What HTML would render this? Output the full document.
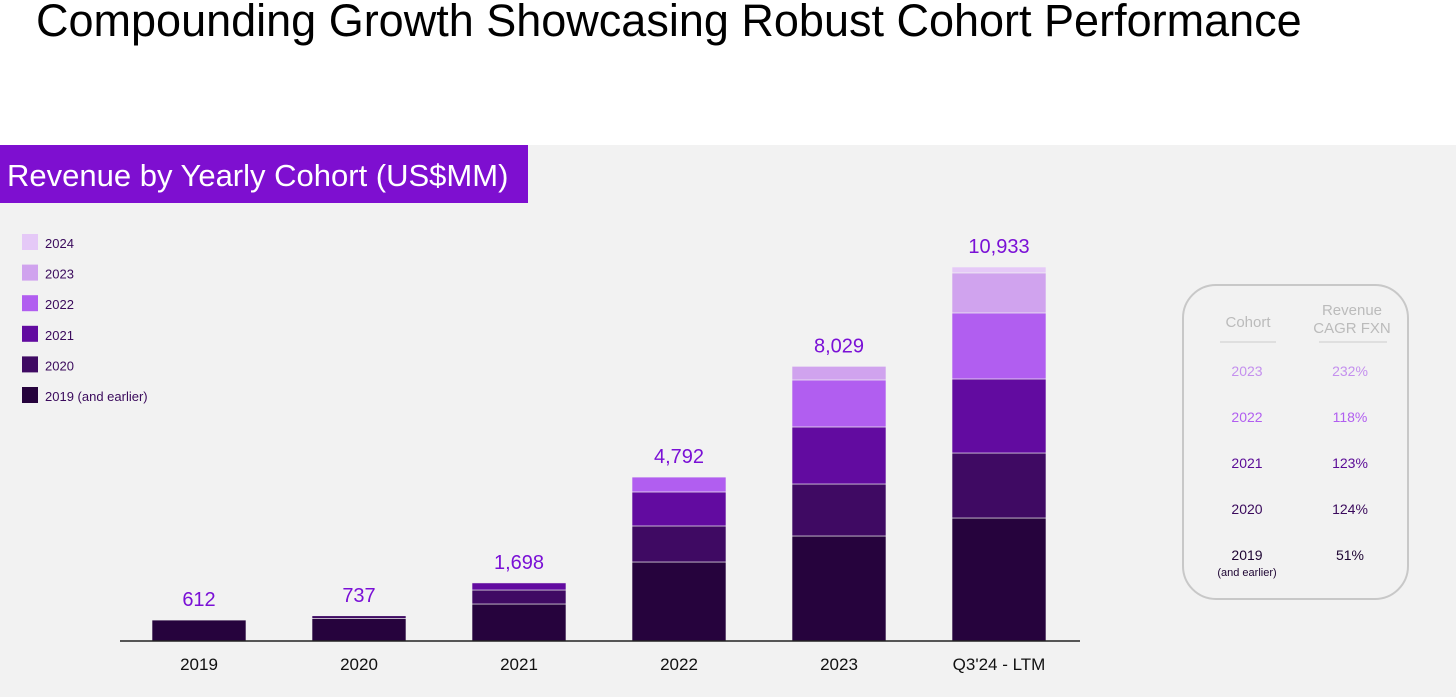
<!DOCTYPE html>
<html><head><meta charset="utf-8"><style>
body{margin:0;width:1456px;height:697px;background:#fff;font-family:"Liberation Sans",sans-serif;position:relative;overflow:hidden}
.abs{position:absolute}
</style></head><body>
<div class="abs" style="left:36px;top:-5px;font-size:45px;color:#000;white-space:nowrap">Compounding Growth Showcasing Robust Cohort Performance</div>
<div class="abs" style="left:0;top:145px;width:1456px;height:552px;background:#f2f2f2"></div>
<div class="abs" style="left:0;top:145px;width:528px;height:58px;background:#7e0fd0;color:#fff;font-size:31px;line-height:62px;padding-left:7px;box-sizing:border-box;white-space:nowrap">Revenue by Yearly Cohort (US$MM)</div>
<svg id="chart" class="abs" style="left:0;top:0" width="1456" height="697"></svg>
<div class="abs" style="left:1182px;top:284px;width:227px;height:316px;border:2px solid #c8c8c8;border-radius:34px;box-sizing:border-box"></div>
<script>
const categories=["2019","2020","2021","2022","2023","Q3'24 - LTM"];
const totals=[612,737,1698,4792,8029,10933];
const totalLabels=["612","737","1,698","4,792","8,029","10,933"];
const cohorts=["2019 (and earlier)","2020","2021","2022","2023","2024"];
const s2019=[612,660,1082,2310,3070,3596];
const s2020=[0,77,409,1053,1520,1900];
const s2021=[0,0,207,994,1667,2164];
const s2022=[0,0,0,435,1374,1930];
const s2023=[0,0,0,0,398,1170];
const s2024=[0,0,0,0,0,173];
const series=[s2019,s2020,s2021,s2022,s2023,s2024];
const colors=["#26033d","#3f0a63","#620ba0","#b15ef0","#d0a3ee","#e5c9f7"];
const tableCohorts=["2023","2022","2021","2020","2019"];
const tableCagr=["232%","118%","123%","124%","51%"];
const tableColors=["#c490ee","#b15ef0","#5a0b96","#3a0a5c","#1e0533"];

const NS="http://www.w3.org/2000/svg";
const svg=document.getElementById('chart');
const base=641, scaleY=374/10933;
const y=v=>base-v*scaleY;
const xc=i=>199+i*160;
const bw=94;
function mk(t,a){const e=document.createElementNS(NS,t);for(const k in a)e.setAttribute(k,a[k]);svg.appendChild(e);return e;}
categories.forEach((c,i)=>{
  let acc=0;
  series.forEach((s,j)=>{
    if(s[i]<=0)return;
    const r=mk('rect',{x:xc(i)-bw/2,y:y(acc+s[i]),width:bw,height:s[i]*scaleY,fill:colors[j],stroke:'#f2f2f2','stroke-width':0.6});
    
    
    acc+=s[i];
  });
  const t=mk('text',{x:xc(i),y:y(totals[i])-14,'text-anchor':'middle','font-size':20,fill:'#7a10d6'});
  t.textContent=totalLabels[i];
  
  
  const xl=mk('text',{x:xc(i),y:670,'text-anchor':'middle','font-size':17,fill:'#111'});
  xl.textContent=c;
  
  
});
const ax=mk('line',{x1:120,x2:1080,y1:base,y2:base,stroke:'#222','stroke-width':1.5});


for(let k=0;k<6;k++){
  const j=5-k, ly=234+k*30.6;
  const r=mk('rect',{x:22,y:ly,width:16,height:16,fill:colors[j]});
  
  
  const t=mk('text',{x:45,y:ly+14,'font-size':13,fill:'#3a0a5c'});
  t.textContent=cohorts[j];
  
  
}
const h1=mk('text',{x:1248,y:327,'text-anchor':'middle','font-size':15,fill:'#bbb'});h1.textContent='Cohort';


const h2=mk('text',{x:1352,y:315,'text-anchor':'middle','font-size':15,fill:'#bbb'});h2.textContent='Revenue';


const h3=mk('text',{x:1352,y:333,'text-anchor':'middle','font-size':15,fill:'#bbb'});h3.textContent='CAGR FXN';


mk('line',{x1:1220,x2:1276,y1:342,y2:342,stroke:'#ccc'});
mk('line',{x1:1319,x2:1387,y1:342,y2:342,stroke:'#ccc'});
tableCohorts.forEach((c,i)=>{
  const ty=376+i*46;
  const a=mk('text',{x:1247,y:ty,'text-anchor':'middle','font-size':14,fill:tableColors[i]});a.textContent=c;
  
  
  const b=mk('text',{x:1350,y:ty,'text-anchor':'middle','font-size':14,fill:tableColors[i]});b.textContent=tableCagr[i];
  
  
});
const n=mk('text',{x:1247,y:576,'text-anchor':'middle','font-size':11,fill:'#1e0533'});n.textContent='(and earlier)';


</script>
</body></html>
